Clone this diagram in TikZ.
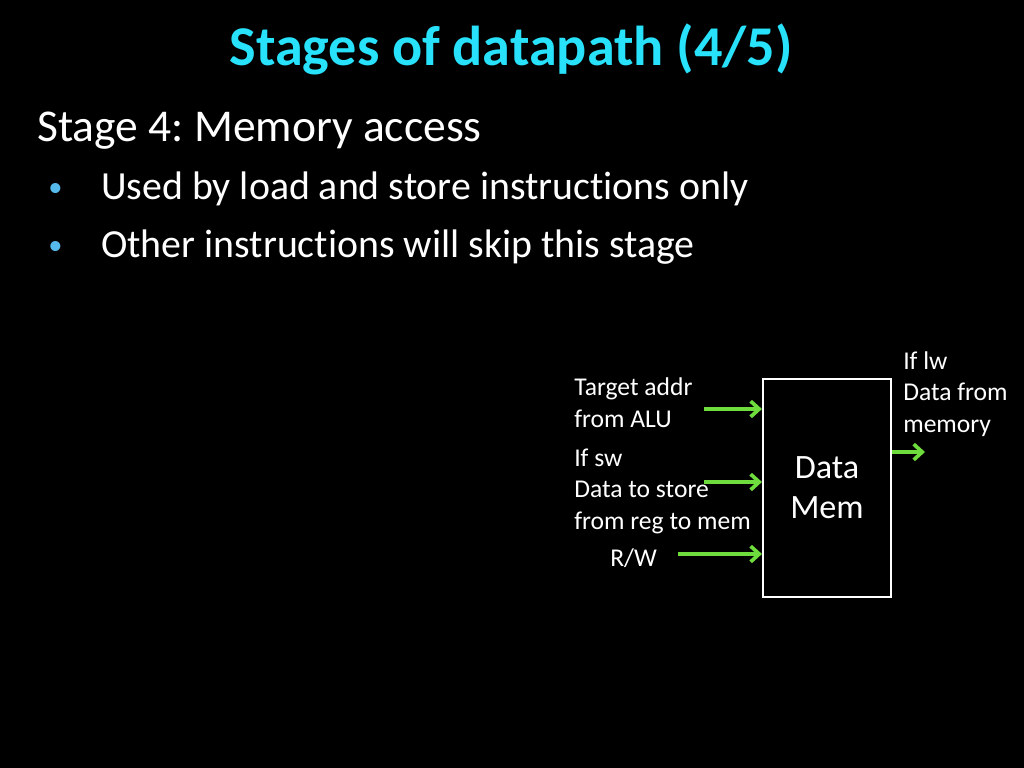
\documentclass[tikz,border=0pt]{standalone}
\usepackage{fontspec}
\setmainfont{Carlito}[Ligatures=NoCommon]
\usetikzlibrary{positioning,arrows.meta}
\definecolor{titlecyan}{RGB}{40,225,250}
\definecolor{bulletblue}{RGB}{85,185,235}
\definecolor{wiregreen}{RGB}{110,220,60}
\tikzstyle{every node}=[text=white,inner sep=0pt]
\tikzstyle{sidetext}=[anchor=base west,align=left,font=\fontsize{18}{22}\selectfont]
\tikzstyle{bodytext}=[anchor=base west,font=\fontsize{28}{34}\selectfont]
\tikzstyle{wire}=[draw=wiregreen,line width=2.6pt,-{Straight Barb[length=6pt,width=11pt]}]
\frenchspacing

\begin{document}
\begin{tikzpicture}[x=0.703125pt,y=-0.703125pt]
    \fill[black] (0,0) rectangle (1024,768);
    \useasboundingbox (0,0) rectangle (1024,768);
    \node (title) [anchor=base,text=titlecyan,font=\fontsize{39.5}{47}\selectfont\bfseries] at (511,66) {Stages of datapath (4/5)};
    \node (stage) [anchor=base west,font=\fontsize{32}{38}\selectfont] at (37,142) {Stage 4: Memory access};
    \node (used) [bodytext] at (101,200) {Used by load and store instructions only};
    \node (other) [bodytext] at (101,258) {Other instructions will skip this stage};
    \node [bodytext,text=bulletblue,font=\fontsize{20}{24}\selectfont] at (48,197) {•};
    \node [bodytext,text=bulletblue,font=\fontsize{20}{24}\selectfont] at (48,255) {•};
    % memory block
    \node (mem) [draw=white,line width=1.5pt,minimum width=90pt,minimum height=153pt,
        align=center,font=\fontsize{24}{28}\selectfont] at (827,488) {Data\\Mem};
    \node (addr) [sidetext] at (574,427) {Target addr\\from ALU};
    \node (sw) [sidetext] at (574,529) {If sw\\Data to store\\from reg to mem};
    \node (rw) [sidetext] at (610,566) {R/W};
    \node (lw) [sidetext] at (903,432) {If lw\\Data from\\memory};
    \coordinate (addrin) at (704,409);
    \coordinate (swin) at (704,482);
    \coordinate (rwin) at (678,554);
    \coordinate (lwout) at (925,452);
    \draw[wire] (addrin) -- (mem.west |- addrin);
    \draw[wire] (swin) -- (mem.west |- swin);
    \draw[wire] (rwin) -- (mem.west |- rwin);
    \draw[wire] (mem.east |- lwout) -- (lwout);
\end{tikzpicture}
\end{document}
